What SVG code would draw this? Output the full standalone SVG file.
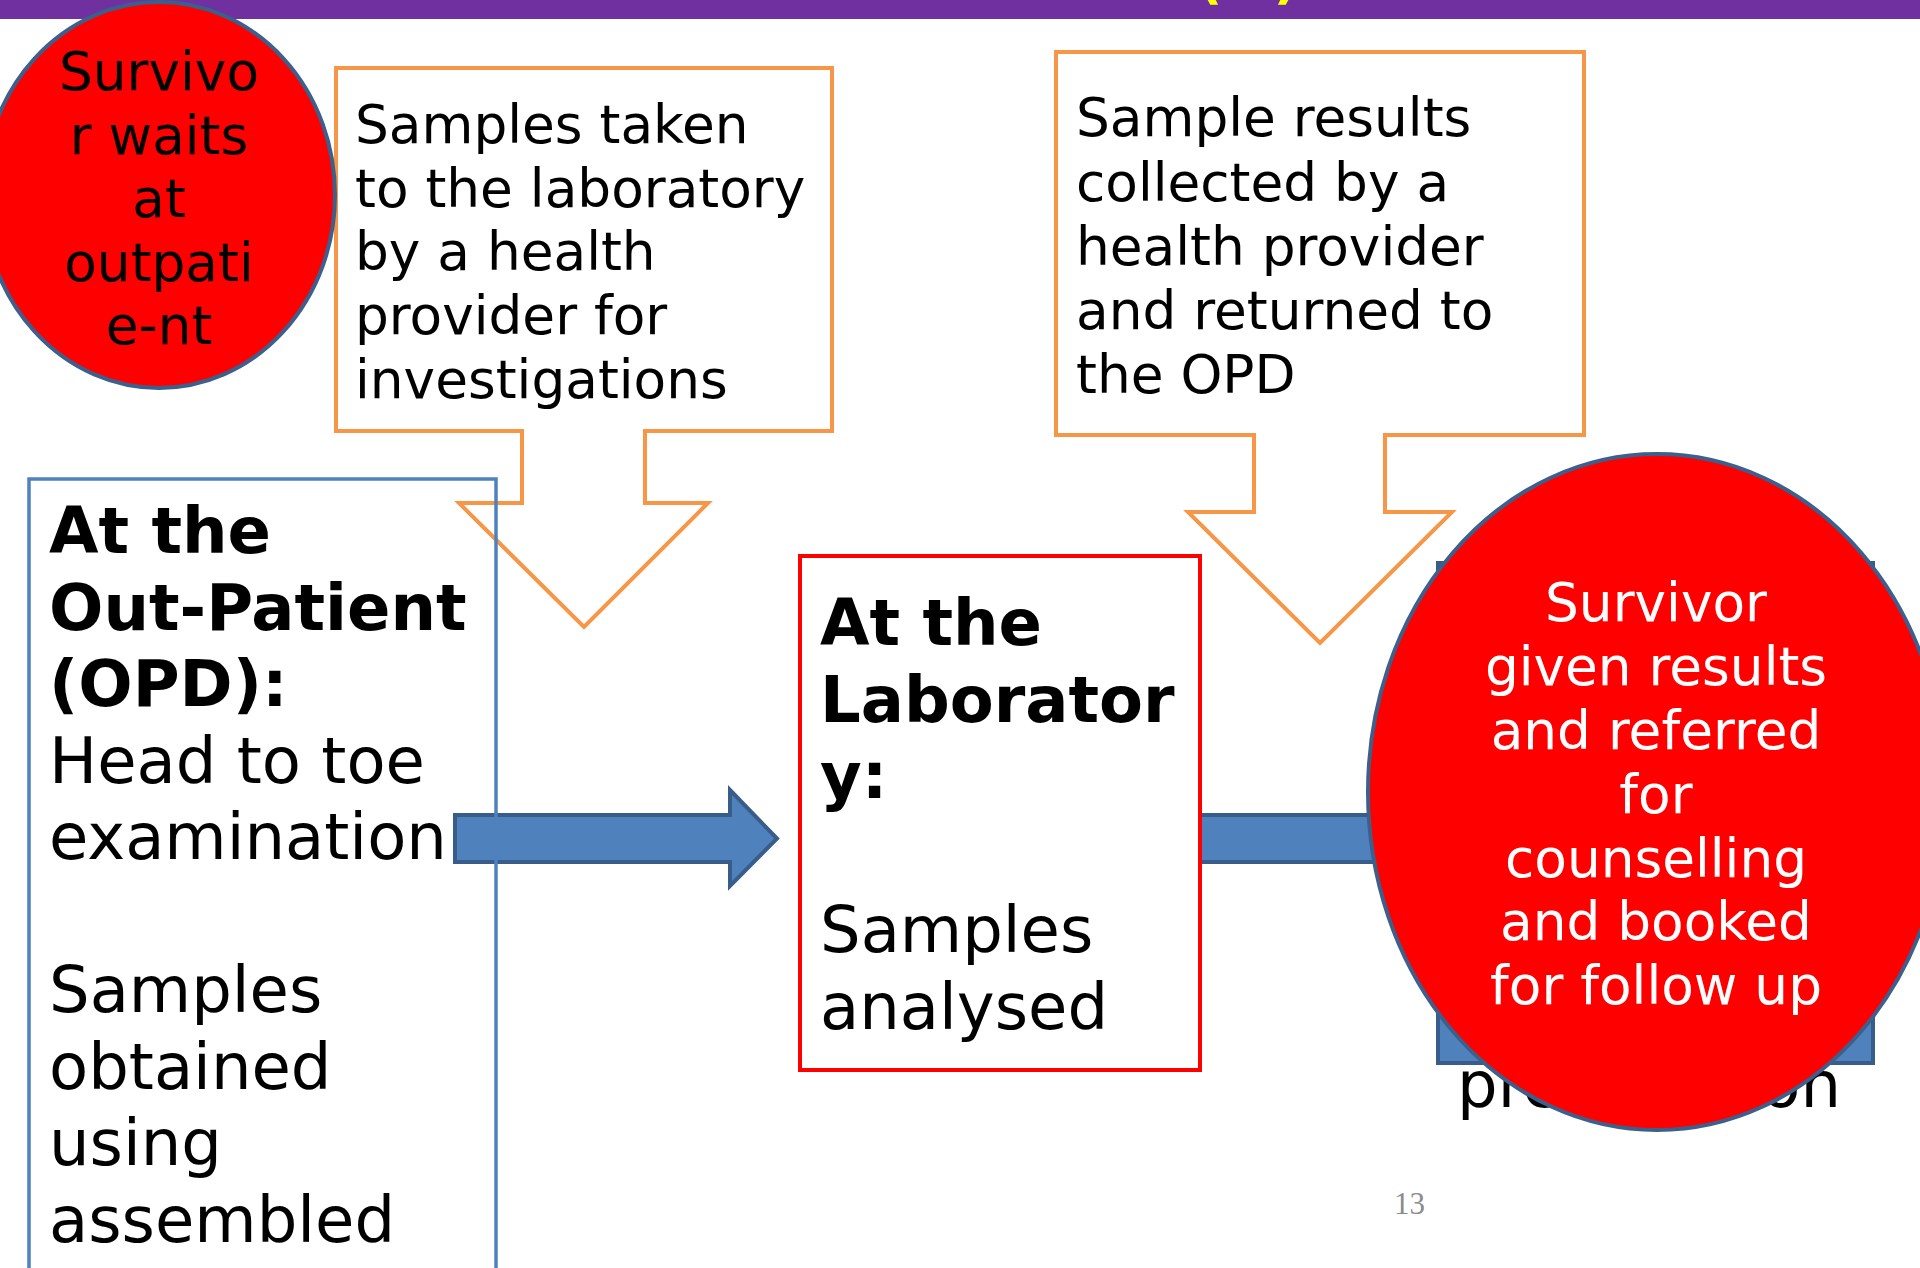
<svg xmlns="http://www.w3.org/2000/svg" width="1920" height="1268" viewBox="0 0 1920 1268">
<style>
.t{font-family:"DejaVu Sans","Liberation Sans",sans-serif;fill:#000}
.s53{font-size:53.3px}
.s63{font-size:64px}
.b{font-weight:bold}
.w{fill:#fff}
.mid{text-anchor:middle}
.call{fill:#fff;stroke:#F79646;stroke-width:4;stroke-linejoin:miter}
.blk{fill:#4F81BD;stroke:#385D8A;stroke-width:4;stroke-linejoin:miter}
.oval{fill:#FF0000;stroke:#3C5F8C;stroke-width:4}
</style>
<rect x="0" y="0" width="1920" height="1268" fill="#fff"/>
<g id="title-bar">
<rect x="0" y="0" width="1920" height="19" fill="#7030A0"/>
<text x="1198" y="-2" class="t b" style="font-size:53px;fill:#FFFF00">(</text>
<text x="1298" y="-2" class="t b" style="font-size:53px;fill:#FFFF00;text-anchor:end">)</text>
</g>
<g id="connectors">
<path class="blk" d="M455,815 H730 V790 L777,838.5 L730,886 V862 H455 Z"/>
<path class="blk" d="M1200,815 H1480 V790 L1527,838.5 L1480,886 V862 H1200 Z"/>
</g>
<g id="callout-samples-taken">
<path class="call" d="M336,68 H832 V431 H645 V503 H708 L584,627 L459,503 H522 V431 H336 Z"/>
<text class="t s53"><tspan x="355" y="143">Samples taken</tspan><tspan x="355" y="207">to the laboratory</tspan><tspan x="355" y="270">by a health</tspan><tspan x="355" y="334">provider for</tspan><tspan x="355" y="398">investigations</tspan></text>
</g>
<g id="callout-results">
<path class="call" d="M1056,52 H1584 V435 H1385 V512 H1452 L1320,643 L1188,512 H1254 V435 H1056 Z"/>
<text class="t s53"><tspan x="1076" y="136">Sample results</tspan><tspan x="1076" y="201">collected by a</tspan><tspan x="1076" y="265">health provider</tspan><tspan x="1076" y="329">and returned to</tspan><tspan x="1076" y="393">the OPD</tspan></text>
</g>
<g id="survivor-waits">
<ellipse class="oval" cx="159" cy="195" rx="176" ry="193"/>
<text class="t s53 mid"><tspan x="159" y="90">Survivo</tspan><tspan x="159" y="154">r waits</tspan><tspan x="159" y="217">at</tspan><tspan x="159" y="281">outpati</tspan><tspan x="159" y="344">e-nt</tspan></text>
</g>
<g id="opd-box">
<rect x="29" y="479" width="467" height="820" fill="none" stroke="#4F81BD" stroke-width="3.5"/>
<text class="t s63"><tspan x="49" y="553" class="b">At the</tspan><tspan x="49" y="629.5" class="b">Out-Patient</tspan><tspan x="49" y="706" class="b">(OPD):</tspan><tspan x="49" y="782.5">Head to toe</tspan><tspan x="49" y="859">examination</tspan><tspan x="49" y="1012">Samples</tspan><tspan x="49" y="1088.5">obtained</tspan><tspan x="49" y="1165">using</tspan><tspan x="49" y="1241.5">assembled</tspan></text>
</g>
<g id="lab-box">
<rect x="800" y="556" width="400" height="514" fill="#fff" stroke="#FF0000" stroke-width="4"/>
<text class="t s63"><tspan x="820" y="645" class="b">At the</tspan><tspan x="820" y="722" class="b">Laborator</tspan><tspan x="820" y="798" class="b">y:</tspan><tspan x="820" y="952">Samples</tspan><tspan x="820" y="1029">analysed</tspan></text>
</g>
<g id="results-box">
<rect class="blk" x="1438" y="563" width="435" height="500" stroke-width="3.5"/>
<text class="t s63" x="1457" y="1107">pre</text>
<text class="t s63" x="1841" y="1107" style="text-anchor:end">on</text>
</g>
<g id="survivor-results">
<ellipse class="oval" cx="1657" cy="792" rx="289" ry="338"/>
<text class="t s53 w mid"><tspan x="1656" y="621">Survivor</tspan><tspan x="1656" y="685">given results</tspan><tspan x="1656" y="749">and referred</tspan><tspan x="1656" y="813">for</tspan><tspan x="1656" y="877">counselling</tspan><tspan x="1656" y="940">and booked</tspan><tspan x="1656" y="1004">for follow up</tspan></text>
</g>
<g id="page-number">
<text x="1394" y="1214" style="font-family:'Liberation Serif',serif;font-size:31px;fill:#8C8C8C">13</text>
</g>
</svg>
